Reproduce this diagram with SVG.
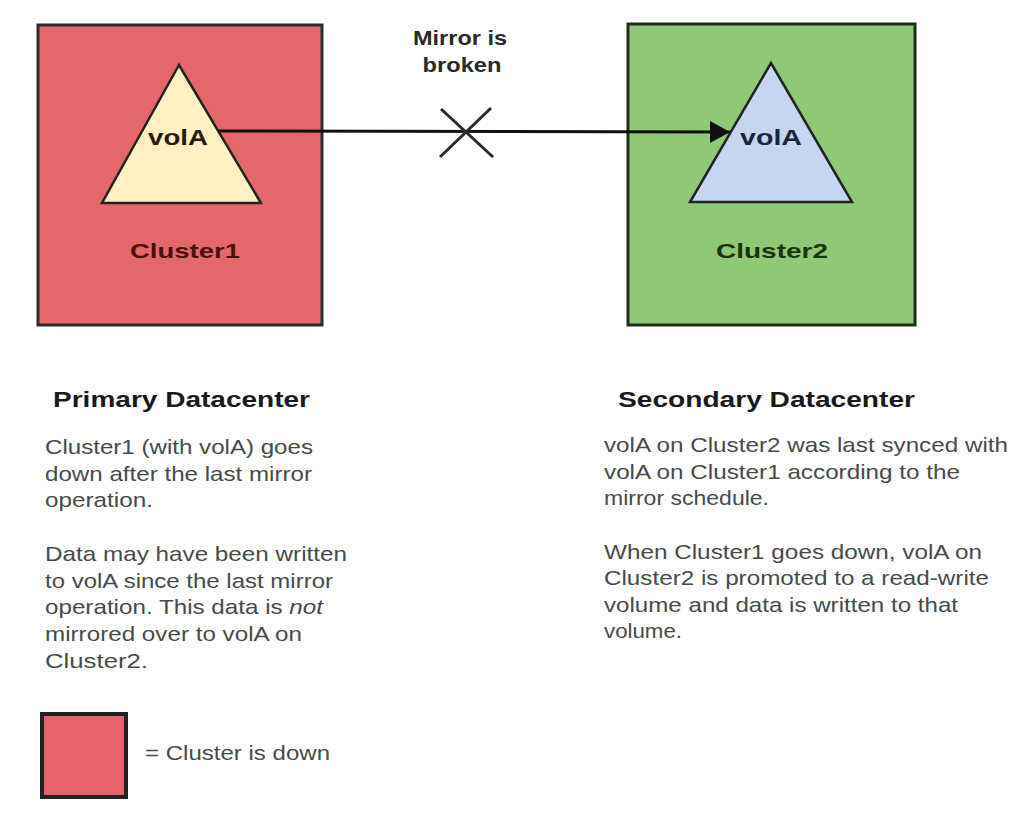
<svg xmlns="http://www.w3.org/2000/svg" width="1016" height="825" viewBox="0 0 1016 825">
<defs>
<marker id="arrow" viewBox="0 0 20 22" refX="20" refY="11" markerWidth="20" markerHeight="22" markerUnits="userSpaceOnUse" orient="auto">
<path d="M0,0 L20,11 L0,22 Z" fill="#111"/>
</marker>
<style>
.box{stroke-width:3}
.tri{stroke:#222;stroke-width:2.5;stroke-linejoin:miter}
.vol{font-family:"Liberation Sans",Arial,sans-serif;font-weight:bold;font-size:22px;text-anchor:middle}
.cl{font-family:"Liberation Sans",Arial,sans-serif;font-weight:bold;font-size:21px;text-anchor:middle}
.head{font-family:"Liberation Sans",Arial,sans-serif;font-weight:bold;font-size:22px;fill:#1a1a1a}
.body{font-family:"Liberation Sans",Arial,sans-serif;font-size:21px;fill:#4a4a4a}
.lbl{font-family:"Liberation Sans",Arial,sans-serif;font-weight:bold;font-size:21px;fill:#2a2a2a;text-anchor:middle}
.conn{stroke:#111;stroke-width:3;fill:none}
.x{stroke:#2a2a2a;stroke-width:3;fill:none}
</style>
</defs>
<rect width="1016" height="825" fill="#ffffff"/>

<g id="cluster1">
<rect class="box" x="38" y="25" width="284" height="300" fill="#e4676a" stroke="#2b2b2b"/>
<text class="cl" x="185" y="258" fill="#4a1010" textLength="110" lengthAdjust="spacingAndGlyphs">Cluster1</text>
</g>
<g id="volA-primary">
<polygon class="tri" points="179,65 102,203 261,203" fill="#fdf0c2"/>
<text class="vol" x="178" y="145" fill="#2a1a0a" textLength="60" lengthAdjust="spacingAndGlyphs">volA</text>
</g>

<g id="cluster2">
<rect class="box" x="628" y="24" width="287" height="301" fill="#8fc977" stroke="#1f2d1a"/>
<text class="cl" x="772" y="258" fill="#1c3210" textLength="112" lengthAdjust="spacingAndGlyphs">Cluster2</text>
</g>
<g id="volA-secondary">
<polygon class="tri" points="771,63 690,202 852,202" fill="#c6d6f0"/>
<text class="vol" x="771" y="145" fill="#1a2540" textLength="62" lengthAdjust="spacingAndGlyphs">volA</text>
</g>

<g id="connectors">
<line class="conn" x1="218" y1="131" x2="730" y2="132" marker-end="url(#arrow)"/>
<line class="x" x1="441" y1="109" x2="493" y2="157"/>
<line class="x" x1="491" y1="108" x2="440" y2="157"/>
</g>

<g id="mirror-label">
<text class="lbl" x="460" y="45" textLength="94" lengthAdjust="spacingAndGlyphs">Mirror is</text>
<text class="lbl" x="462" y="72" textLength="79" lengthAdjust="spacingAndGlyphs">broken</text>
</g>

<g id="primary-text">
<text class="head" x="53" y="407" textLength="257" lengthAdjust="spacingAndGlyphs">Primary Datacenter</text>
<text class="body" x="45" y="454" textLength="268" lengthAdjust="spacingAndGlyphs">Cluster1 (with volA) goes</text>
<text class="body" x="45" y="481" textLength="267" lengthAdjust="spacingAndGlyphs">down after the last mirror</text>
<text class="body" x="45" y="507" textLength="108" lengthAdjust="spacingAndGlyphs">operation.</text>
<text class="body" x="45" y="561" textLength="302" lengthAdjust="spacingAndGlyphs">Data may have been written</text>
<text class="body" x="45" y="588" textLength="288" lengthAdjust="spacingAndGlyphs">to volA since the last mirror</text>
<text class="body" x="45" y="614" textLength="278" lengthAdjust="spacingAndGlyphs">operation. This data is <tspan font-style="italic">not</tspan></text>
<text class="body" x="45" y="641" textLength="257" lengthAdjust="spacingAndGlyphs">mirrored over to volA on</text>
<text class="body" x="45" y="668" textLength="103" lengthAdjust="spacingAndGlyphs">Cluster2.</text>
</g>

<g id="secondary-text">
<text class="head" x="618" y="407" textLength="297" lengthAdjust="spacingAndGlyphs">Secondary Datacenter</text>
<text class="body" x="604" y="452" textLength="404" lengthAdjust="spacingAndGlyphs">volA on Cluster2 was last synced with</text>
<text class="body" x="604" y="479" textLength="356" lengthAdjust="spacingAndGlyphs">volA on Cluster1 according to the</text>
<text class="body" x="604" y="505" textLength="165" lengthAdjust="spacingAndGlyphs">mirror schedule.</text>
<text class="body" x="604" y="559" textLength="378" lengthAdjust="spacingAndGlyphs">When Cluster1 goes down, volA on</text>
<text class="body" x="604" y="585" textLength="385" lengthAdjust="spacingAndGlyphs">Cluster2 is promoted to a read-write</text>
<text class="body" x="604" y="612" textLength="354" lengthAdjust="spacingAndGlyphs">volume and data is written to that</text>
<text class="body" x="604" y="638" textLength="78" lengthAdjust="spacingAndGlyphs">volume.</text>
</g>

<g id="legend">
<rect x="42" y="714" width="84" height="83" fill="#e8626a" stroke="#222" stroke-width="4"/>
<text class="body" x="145" y="760" textLength="185" lengthAdjust="spacingAndGlyphs">= Cluster is down</text>
</g>
</svg>
